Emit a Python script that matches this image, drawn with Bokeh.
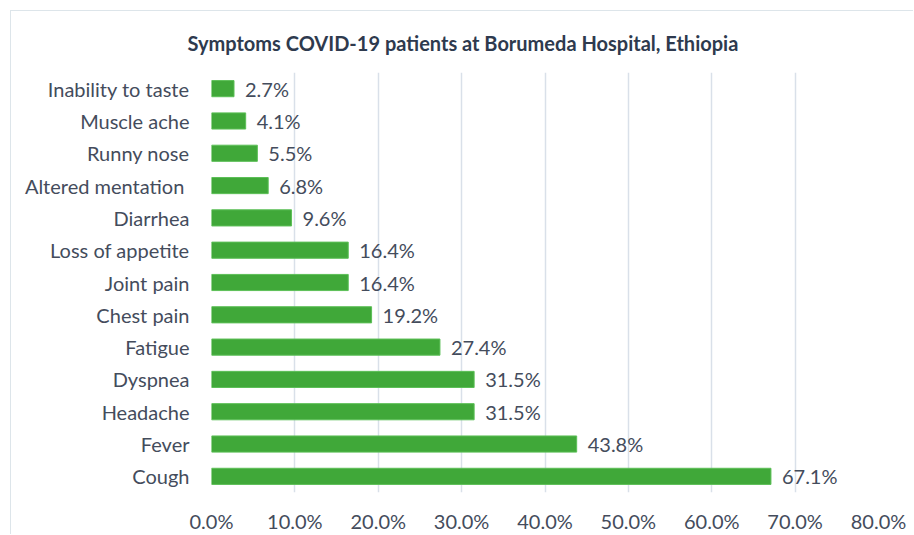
from bokeh.plotting import figure
from bokeh.models import ColumnDataSource, FactorRange, Range1d, FixedTicker, Title, CustomJSTickFormatter
from bokeh.core.properties import value
from bokeh.embed import file_html
from bokeh.resources import INLINE

symptoms = ["Inability to taste", "Muscle ache", "Runny nose", "Altered mentation ", "Diarrhea",
            "Loss of appetite", "Joint pain", "Chest pain", "Fatigue", "Dyspnea", "Headache",
            "Fever", "Cough"]
percent = [2.7, 4.1, 5.5, 6.8, 9.6, 16.4, 16.4, 19.2, 27.4, 31.5, 31.5, 43.8, 67.1]
x_ticks = [0, 10, 20, 30, 40, 50, 60, 70, 80]

labels = [f"{v:.1f}%" for v in percent]
src = ColumnDataSource(dict(sym=symptoms, val=percent, lab=labels))

FONT = "Lato"
TXT = "#444c5c"

p = figure(width=903, height=524, output_backend="svg", toolbar_location=None,
           y_range=FactorRange(*reversed(symptoms), range_padding=0),
           x_range=Range1d(0, 80),
           min_border_left=200, min_border_right=36, min_border_top=61, min_border_bottom=43,
           styles={"margin-left": "10px", "margin-top": "10px",
                   "border-top": "1px solid #dde5ea", "border-left": "1px solid #dde5ea"})
p.title = Title(text="Symptoms COVID-19 patients at Borumeda Hospital, Ethiopia",
                align="left", offset=-24, standoff=35,
                text_font=FONT, text_font_size="20px", text_font_style="bold",
                text_color="#2e3a4e")

p.hbar(y="sym", right="val", left=0, height=0.5, source=src,
       fill_color="#40a839", line_color="#5cbf57", line_width=1)
p.text(x="val", y="sym", text="lab", source=src, x_offset=11,
       text_baseline="middle", text_align="left",
       text_font=value(FONT), text_font_size="20px", text_color=TXT)

p.outline_line_color = None
p.background_fill_color = "white"
p.border_fill_color = "white"

p.xaxis.ticker = FixedTicker(ticks=x_ticks)
p.xaxis.formatter = CustomJSTickFormatter(code="return tick.toFixed(1) + '%';")
p.xaxis.axis_line_color = None
p.xaxis.major_tick_line_color = None
p.xaxis.minor_tick_line_color = None
p.xaxis.major_label_text_font = FONT
p.xaxis.major_label_text_font_size = "20px"
p.xaxis.major_label_text_color = TXT
p.xaxis.major_label_standoff = 10

p.yaxis.axis_line_color = None
p.yaxis.major_tick_line_color = None
p.yaxis.major_label_text_font = FONT
p.yaxis.major_label_text_font_size = "20px"
p.yaxis.major_label_text_color = TXT
p.yaxis.major_label_standoff = 16

p.xgrid.grid_line_color = "#d9e0e9"
p.xgrid.grid_line_width = 1.5
p.ygrid.grid_line_color = None

open("out.html", "w").write(file_html(p, INLINE))
